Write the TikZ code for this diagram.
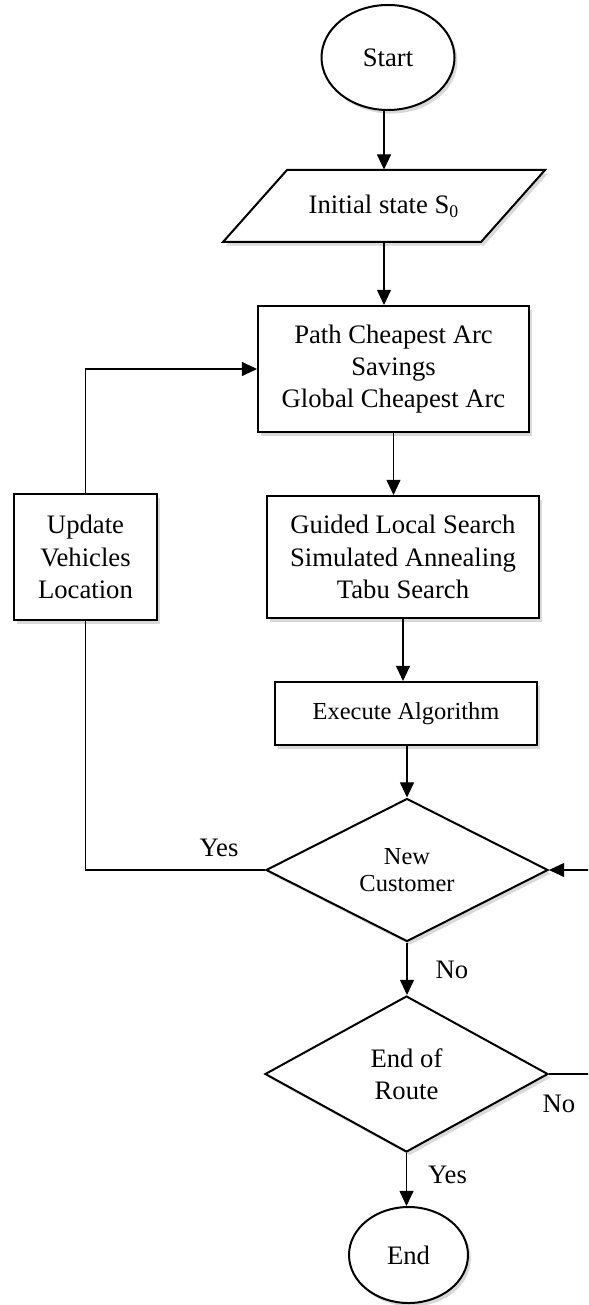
\documentclass[tikz,border=0pt]{standalone}
\usepackage{fontspec}
\setmainfont{Liberation Serif}
\usetikzlibrary{shapes.geometric,arrows.meta,shadows}
\tikzset{
  boxshadow/.style={drop shadow={opacity=0.3, shadow xshift=1.3pt, shadow yshift=-1.6pt}},
  bigtext/.style={font=\fontsize{12}{14.5}\selectfont},
  smalltext/.style={font=\fontsize{11}{12.5}\selectfont},
  frame/.style={draw, line width=0.9pt, fill=white, boxshadow},
  terminal/.style={ellipse, frame, inner sep=0pt, bigtext},
  inout/.style={rectangle, inner sep=0pt, bigtext},
  process/.style={rectangle, frame, align=center, bigtext},
  decision/.style={diamond, frame, inner sep=0pt, align=center, bigtext},
  tag/.style={inner sep=0pt, bigtext},
  flow/.style={line width=0.5pt, -{Triangle[length=6.8pt, width=6.3pt]}},
  wire/.style={line width=0.5pt}
}

\begin{document}
\begin{tikzpicture}[x=0.45pt, y=-0.45pt]
            \useasboundingbox (0,0) rectangle (588,1305);
            \clip             (0,0) rectangle (588,1305);

            % input parallelogram
            \path[frame] (223.0, 242.0) -- (481.0, 242.0) -- (545.0, 170.0) -- (287.0, 170.0) -- cycle;

            % main column
            \node[terminal, minimum width=59.85pt, minimum height=47.25pt]  (start)  at (388.0,  57.5) {Start};
            \node[inout,    minimum width=116.1pt, minimum height=32.4pt]   (init)   at (384.0, 206.0) {Initial state S\textsubscript{0}};
            \node[process,  minimum width=121.95pt, minimum height=56.7pt]  (cheap)  at (393.5, 369.0) {Path Cheapest Arc\\Savings\\Global Cheapest Arc};
            \node[process,  minimum width=122.4pt, minimum height=54.9pt]   (meta)   at (403.0, 557.0) {Guided Local Search\\Simulated Annealing\\Tabu Search};
            \node[process,  smalltext, minimum width=117.9pt, minimum height=28.35pt] (exec) at (406.0, 713.5) {Execute Algorithm};
            \node[decision, smalltext, minimum width=126.9pt, minimum height=64.35pt] (newc) at (407.0, 870.0) {New\\Customer};
            \node[decision, minimum width=127.35pt, minimum height=70.2pt]  (endr)   at (406.5,1074.0) {End of\\Route};
            \node[terminal, minimum width=53.55pt, minimum height=43.2pt]   (finish) at (408.5,1255.0) {End};

            % side box
            \node[process,  minimum width=64.35pt, minimum height=56.7pt]   (update) at ( 85.5, 557.0) {Update\\Vehicles\\Location};

            % branch labels
            \node[tag] (yesnew) at (219.0, 848.0) {Yes};
            \node[tag] (nonew)  at (452.0, 970.0) {No};
            \node[tag] (noend)  at (559.0,1104.0) {No};
            \node[tag] (yesend) at (447.5,1175.0) {Yes};

            % connectors
            \draw[flow] (init.north |- start.south) -- (init.north);
            \draw[flow] (init.south)  -- (init.south |- cheap.north);
            \draw[flow] (cheap.south) -- (cheap.south |- meta.north);
            \draw[flow] (meta.south)  -- (meta.south |- exec.north);
            \draw[flow] (exec.south -| newc.north) -- (newc.north);
            \draw[flow] (newc.south)  -- (newc.south |- endr.north);
            \draw[flow] (endr.south)  -- (endr.south |- finish.north);
            \draw[flow] (update.north) |- (cheap.west);
            \draw[wire] (newc.west) -| (update.south);
            \draw[flow] (endr.east) -- ++(60,0) |- (newc.east);
\end{tikzpicture}
\end{document}
